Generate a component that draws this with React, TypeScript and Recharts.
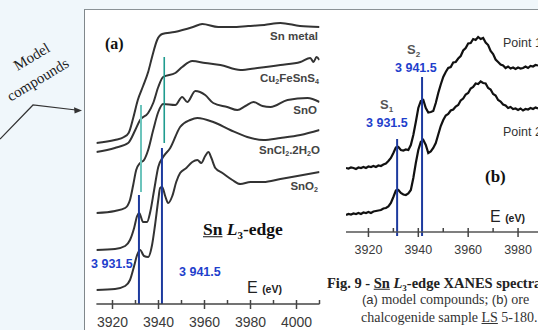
import React from 'react';
import { LineChart, Line, XAxis, YAxis, ReferenceLine } from 'recharts';

// panel (a): model compounds, energy (eV) vs. offset absorbance (a.u.)
const snMetalE = [3913, 3921, 3925, 3927, 3929, 3931, 3933.3, 3935.5, 3937.2, 3939.4, 3941.6, 3947, 3955, 3959, 3966, 3972, 3979, 3986, 3993, 4001.5, 4010];
const snMetalA = [161, 164, 167, 171, 186, 204, 218, 232, 247, 264, 270, 272, 277, 280, 277, 277, 278, 279, 281, 278, 277];

const cu2FeSnS4E = [3913, 3921, 3926.8, 3929.9, 3932, 3935.5, 3937.7, 3939.9, 3942, 3947.3, 3950.3, 3954.7, 3960.3, 3966.9, 3975.6, 3983, 3993, 4001.7, 4006, 4007.4, 4008.7, 4010];
const cu2FeSnS4A = [152, 156, 161, 174, 184, 191, 201, 217, 227, 231, 237, 243, 241, 239, 234, 236, 239, 242, 246, 242, 247, 244];

const snOE = [3913, 3921.1, 3925.5, 3927.6, 3929, 3930.3, 3932, 3933.7, 3935.5, 3937.7, 3939.9, 3942, 3947.3, 3950.3, 3952.5, 3956, 3960.3, 3963.8, 3969.9, 3974.3, 3977.8, 3981.3, 3985.2, 3988.7, 3996.1, 4004.8, 4010];
const snOA = [91, 93, 96, 104, 119, 134, 141, 144, 154, 174, 192, 200, 199, 207, 202, 213, 209, 201, 197, 194, 198, 202, 198, 197, 204, 206, 202];

const snCl2E = [3913, 3921.1, 3925.5, 3927.6, 3929.4, 3930.7, 3931.6, 3933.3, 3935, 3936.4, 3938.1, 3939.9, 3942, 3945.1, 3949.4, 3953.8, 3956.9, 3963.8, 3971.2, 3978.6, 3985.6, 3993, 4001.7, 4010];
const snCl2A = [54, 55, 58, 64, 76, 88, 91, 82, 82, 92, 114, 137, 147, 156, 177, 184, 186, 182, 174, 167, 164, 166, 169, 174];

const snO2E = [3913, 3921.1, 3925.5, 3927.6, 3929.4, 3930.7, 3932, 3933.7, 3935.5, 3937.2, 3938.5, 3939.9, 3940.7, 3941.6, 3942.9, 3944.2, 3946, 3947.7, 3949.4, 3952.1, 3954.7, 3956.9, 3958.6, 3960.3, 3961.7, 3963, 3964.7, 3967.8, 3972.1, 3975.6, 3980, 3985.6, 3993, 4000.4, 4010];
const snO2A = [14, 15, 18, 24, 38, 49, 54, 48, 47, 59, 79, 104, 116, 117, 108, 101, 108, 122, 131, 136, 142, 144, 141, 148, 152, 146, 136, 131, 124, 120, 122, 122, 125, 128, 132];

const ticksA = [3920, 3930, 3940, 3950, 3960, 3970, 3980, 3990, 4000, 4010];

// panel (b): ore chalcogenide sample LS 5-180, two analysis points
const energyB = [3911, 3912, 3913, 3914, 3915, 3916, 3917, 3918, 3919, 3920, 3921, 3922, 3923, 3924, 3925, 3926, 3927, 3928, 3929, 3930,
  3931, 3932, 3933, 3934, 3935, 3936, 3937, 3938, 3939, 3940, 3941, 3942, 3943, 3944, 3945, 3946, 3947, 3948, 3949, 3950,
  3951, 3952, 3953, 3954, 3955, 3956, 3957, 3958, 3959, 3960, 3961, 3962, 3963, 3964, 3965, 3966, 3967, 3968, 3969, 3970,
  3971, 3972, 3973, 3974, 3975, 3976, 3977, 3978, 3979, 3980, 3981, 3982, 3983, 3984, 3985, 3986, 3987, 3988];
const point1 = [64, 63.5, 64.5, 64, 63, 64.5, 64, 65, 64, 65.5, 65, 66, 65, 66.5, 66, 67.5, 68.5, 71, 74, 79,
  84.5, 85, 82, 81.5, 82.5, 82, 87, 97, 110, 124, 131, 132, 124, 119.5, 120, 121, 129, 139, 147.5, 155,
  160, 164, 165, 169.5, 170, 173.5, 176, 181.5, 184, 188.5, 189, 193, 192, 195, 193, 194, 189.5, 187, 181, 178,
  172.5, 170, 167.5, 166.5, 164, 165.5, 163.5, 164.5, 163, 164.5, 163.5, 164, 165.5, 164, 166, 165.5, 167, 166.5];
const point2 = [17, 18, 17.5, 18.5, 18, 19, 18, 19.5, 19, 20, 19, 20.5, 21, 21.5, 22, 23.5, 24, 25.5, 29, 35,
  41.5, 42, 39, 37.5, 37, 38.5, 42, 54, 69, 82, 90, 92, 87, 79, 80.5, 84, 89, 97.5, 106, 112,
  116.5, 118, 121.5, 122.5, 125.5, 127, 131.5, 133.5, 137.5, 139, 143.5, 145, 148.5, 148, 150.5, 149, 148.5, 144, 142.5, 138,
  136.5, 132, 130.5, 127.5, 126.5, 124, 125, 123, 123.5, 122, 123.5, 121.5, 123, 122.5, 124, 123, 124.5, 123.5];

const ticksB = [3920, 3930, 3940, 3950, 3960, 3970, 3980];

const W = 538;
const H = 330;
const sans = '"Liberation Sans", Arial, sans-serif';
const serif = '"Liberation Serif", "Times New Roman", serif';
const blue = '#1f3fcc';
const lineBlue = '#1d3a9e';

const pts = (e: number[], a: number[]) => e.map((x, i) => ({ e: x, a: a[i] }));

const Sub = ({ children }: { children: React.ReactNode }) => (
  <span style={{ fontSize: '0.62em', position: 'relative', top: '0.35em' }}>{children}</span>
);

const Txt = ({ x, y, anchor = 'left', style, children }: any) => {
  const s: React.CSSProperties = { position: 'absolute', top: y, whiteSpace: 'nowrap', lineHeight: 1, transform: 'translateY(-50%)' };
  if (anchor === 'right') s.right = W - x;
  else if (anchor === 'center') { s.left = x; s.transform = 'translate(-50%, -50%)'; }
  else s.left = x;
  return <div style={{ ...s, ...style }}>{children}</div>;
};

const makeTick = (fontSize: number, dy: number) => (props: any) => {
  const { x, y, payload } = props;
  const major = payload.value % 20 === 0;
  return (
    <g>
      <line x1={x} x2={x} y1={y - 4} y2={major ? y + 5 : y} stroke="#444" strokeWidth={1.5} />
      {major && (
        <text x={x} y={y + dy} textAnchor="middle" fontSize={fontSize} fontFamily={sans} fill="#3a3a3a">
          {payload.value}
        </text>
      )}
    </g>
  );
};

const curveLabel: React.CSSProperties = { fontFamily: sans, fontWeight: 700, fontSize: 11.5, color: '#444' };
const blueNum: React.CSSProperties = { fontFamily: sans, fontWeight: 700, fontSize: 12.5, color: blue };

export default function App() {
  const seriesA = [
    pts(snMetalE, snMetalA),
    pts(cu2FeSnS4E, cu2FeSnS4A),
    pts(snOE, snOA),
    pts(snCl2E, snCl2A),
    pts(snO2E, snO2A),
  ];
  const p1 = pts(energyB, point1);
  const p2 = pts(energyB, point2);

  return (
    <div style={{ position: 'absolute', left: 0, top: 0, width: W, height: H, overflow: 'hidden', background: '#f0f7fb' }}>
      <div style={{ position: 'absolute', left: 84, top: 9, width: W - 84, height: H - 9, background: '#fff', borderLeft: '1.5px solid #80878b', borderTop: '1px solid #8a9296', boxSizing: 'border-box' }} />

      <svg width={W} height={H} style={{ position: 'absolute', left: 0, top: 0 }}>
        <polyline points="0,139 33,105 76,110" fill="none" stroke="#333" strokeWidth={1.2} />
        <polygon points="82,110.6 74,107.2 74.6,113.4" fill="#333" />
      </svg>
      <Txt x={32} y={57} anchor="center" style={{ fontFamily: serif, fontSize: 15, color: '#222', transform: 'translate(-50%, -50%) rotate(-31deg)' }}>Model</Txt>
      <Txt x={38} y={80} anchor="center" style={{ fontFamily: serif, fontSize: 15, color: '#222', transform: 'translate(-50%, -50%) rotate(-31deg)' }}>compounds</Txt>

      {/* panel (a) */}
      <div style={{ position: 'absolute', left: 84, top: 10 }}>
        <LineChart width={250} height={320} margin={{ top: 10, right: 14.5, left: 12.4, bottom: 0 }}>
          <XAxis type="number" dataKey="e" domain={[3913, 4010]} allowDataOverflow ticks={ticksA} interval={0}
            height={26} tickSize={0} tickMargin={0} tickLine={false}
            axisLine={{ stroke: '#444', strokeWidth: 1.5 }} tick={makeTick(14, 23)} />
          <YAxis type="number" domain={[0, 284]} hide allowDataOverflow />
          {seriesA.map((d, i) => (
            <Line key={i} data={d} dataKey="a" type="monotone" stroke="#333" strokeWidth={2} dot={false} isAnimationActive={false} />
          ))}
          <ReferenceLine segment={[{ x: 3932.4, y: 112 }, { x: 3932.4, y: 199 }]} stroke="#6cc4bc" strokeWidth={2} />
          <ReferenceLine segment={[{ x: 3942.5, y: 161 }, { x: 3942.5, y: 247 }]} stroke="#1f9c8f" strokeWidth={1.6} />
          <ReferenceLine segment={[{ x: 3931.5, y: 0 }, { x: 3931.5, y: 109 }]} stroke={lineBlue} strokeWidth={2} />
          <ReferenceLine segment={[{ x: 3941.5, y: 0 }, { x: 3941.5, y: 156 }]} stroke={lineBlue} strokeWidth={2} />
        </LineChart>
      </div>

      <Txt x={105} y={44} style={{ fontFamily: serif, fontWeight: 700, fontSize: 16, color: '#111' }}>(a)</Txt>
      <Txt x={318} y={37} anchor="right" style={curveLabel}>Sn metal</Txt>
      <Txt x={319} y={79} anchor="right" style={curveLabel}>Cu<Sub>2</Sub>FeSnS<Sub>4</Sub></Txt>
      <Txt x={317} y={111} anchor="right" style={curveLabel}>SnO</Txt>
      <Txt x={320} y={151} anchor="right" style={curveLabel}>SnCl<Sub>2</Sub>.2H<Sub>2</Sub>O</Txt>
      <Txt x={318} y={187} anchor="right" style={curveLabel}>SnO<Sub>2</Sub></Txt>
      <Txt x={203} y={230} style={{ fontFamily: serif, fontWeight: 700, fontSize: 17.5, color: '#111' }}>
        <u>Sn</u> <i>L</i><Sub>3</Sub>-edge
      </Txt>
      <Txt x={91} y={264} style={blueNum}>3 931.5</Txt>
      <Txt x={179} y={272} style={blueNum}>3 941.5</Txt>
      <Txt x={247} y={288} style={{ fontFamily: sans, color: '#222', fontSize: 16 }}>
        E <span style={{ fontSize: 10.5, fontWeight: 700 }}>(eV)</span>
      </Txt>

      {/* panel (b) */}
      <div style={{ position: 'absolute', left: 340, top: 10 }}>
        <LineChart width={198} height={320} margin={{ top: 0, right: 0, left: 6, bottom: 72 }}>
          <XAxis type="number" dataKey="e" domain={[3911, 3988]} allowDataOverflow ticks={ticksB} interval={0}
            height={26} tickSize={0} tickMargin={0} tickLine={false}
            axisLine={{ stroke: '#555', strokeWidth: 1.5 }} tick={makeTick(12.5, 21.5)} />
          <YAxis type="number" domain={[0, 222]} hide allowDataOverflow />
          <Line data={p1} dataKey="a" type="linear" stroke="#111" strokeWidth={2.2} dot={false} isAnimationActive={false} />
          <Line data={p2} dataKey="a" type="linear" stroke="#111" strokeWidth={2.2} dot={false} isAnimationActive={false} />
          <ReferenceLine segment={[{ x: 3931.5, y: -4 }, { x: 3931.5, y: 93 }]} stroke={lineBlue} strokeWidth={2} ifOverflow="visible" />
          <ReferenceLine segment={[{ x: 3941.5, y: -4 }, { x: 3941.5, y: 155 }]} stroke={lineBlue} strokeWidth={2} ifOverflow="visible" />
        </LineChart>
      </div>

      <Txt x={407} y={50} style={{ fontFamily: sans, fontWeight: 700, fontSize: 13, color: '#555' }}>S<Sub>2</Sub></Txt>
      <Txt x={395} y={68} style={blueNum}>3 941.5</Txt>
      <Txt x={380} y={105} style={{ fontFamily: sans, fontWeight: 700, fontSize: 13, color: '#555' }}>S<Sub>1</Sub></Txt>
      <Txt x={366} y={123} style={blueNum}>3 931.5</Txt>
      <Txt x={503} y={43} style={{ fontFamily: sans, fontSize: 12.5, color: '#333' }}>Point 1</Txt>
      <Txt x={503} y={132} style={{ fontFamily: sans, fontSize: 12.5, color: '#333' }}>Point 2</Txt>
      <Txt x={485} y={176} style={{ fontFamily: serif, fontWeight: 700, fontSize: 17, color: '#111' }}>(b)</Txt>
      <Txt x={490} y={217} style={{ fontFamily: sans, color: '#222', fontSize: 16 }}>
        E <span style={{ fontSize: 10.5, fontWeight: 700 }}>(eV)</span>
      </Txt>

      {/* caption */}
      <Txt x={327} y={283} style={{ fontFamily: serif, fontWeight: 700, fontSize: 14.5, color: '#222' }}>
        Fig. 9 - <u>Sn</u> <i>L</i><Sub>3</Sub>-edge XANES spectra
      </Txt>
      <Txt x={362} y={300} style={{ fontFamily: serif, fontSize: 14, color: '#333' }}>
        <span style={{ fontFamily: sans, fontSize: 13 }}>(a)</span> model compounds; <span style={{ fontFamily: sans, fontSize: 13 }}>(b)</span> ore
      </Txt>
      <Txt x={361} y={318} style={{ fontFamily: serif, fontSize: 14, color: '#333' }}>
        chalcogenide sample <u>LS</u> 5-180.
      </Txt>
    </div>
  );
}
